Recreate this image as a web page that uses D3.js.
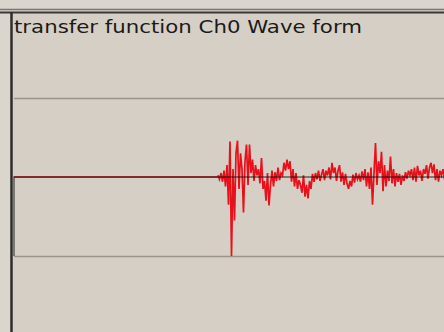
<html>
<script src="https://d3js.org/d3.v7.min.js"></script>
<head>
  <style>
    body { margin: 0; background: #dad6ce; }
    svg { display: block; }
  </style>
</head>
<body>
  <svg id="my_svg" width="444" height="332"></svg>
  <script>
    // chart title
    const title = "transfer function Ch0 Wave form"

    // grid levels (normalised amplitude)
    const gridLevels = [1, -1]

    // black trace: step at the start, then flat
    const blackTimes = [0, 0, 430]
    const blackValues = [-1, 0, 0]

    // red trace: quiet part, then the response samples
    const quietTimes = [0, 204]
    const quietValues = [0, 0]
    const waveStart = 204
    const waveStep = 1.5
    const redWave = [
      0.02, -0.03, 0.05, -0.06, 0.08, -0.12, 0.15, -0.35, 0.45, -1.0,
      0.1, -0.55, 0.3, 0.46, -0.15, 0.3, 0.1, -0.45, 0.2, 0.41,
      -0.1, 0.41, 0.05, 0.22, -0.05, 0.15, 0.02, 0.1, -0.08, 0.24,
      -0.15, -0.05, -0.3, 0.05, -0.36, -0.1, 0.08, -0.12, 0.06, -0.05,
      0.12, -0.04, 0.05, 0.02, 0.18, 0.08, 0.22, 0.1, 0.2, -0.06,
      0.1, -0.12, 0.05, -0.15, -0.04, -0.1, -0.2, 0.02, -0.25, -0.1,
      -0.27, -0.05, -0.15, 0.04, -0.06, 0.05, -0.03, 0.08, -0.05, 0.03,
      0.1, -0.04, 0.08, 0.02, 0.12, -0.03, 0.18, 0.05, 0.12, -0.05,
      0.08, 0.15, -0.06, 0.06, -0.1, 0.04, -0.08, -0.15, -0.05, -0.12,
      0.03, -0.07, 0.05, -0.03, 0.02, -0.06, 0.07, -0.04, 0.1, -0.12,
      0.06, -0.15, 0.12, -0.35, 0.05, 0.43, -0.1, 0.2, 0.05, 0.32,
      -0.18, 0.15, -0.12, 0.08, -0.05, 0.26, -0.08, 0.1, -0.12, 0.05,
      -0.06, 0.04, -0.1, 0.02, -0.05, 0.06, -0.02, 0.08, 0.02, 0.1,
      -0.04, 0.12, -0.06, 0.14, 0.02, 0.08, -0.05, 0.1, 0.04, 0.15,
      -0.02, 0.12, 0.18, 0.05, 0.16, -0.04, 0.1, -0.06, 0.08, 0.02,
      0.1, -0.03
    ]

    const svg = d3.select("#my_svg")
    const W = 444, H = 332
    const panelLeft = 13, panelTop = 13

    const xs = d3.scaleLinear().domain([0, 430]).range([14, 444])
    const ys = d3.scaleLinear().domain([-2, 2]).range([335, 19])

    // panel
    svg.append("rect").attr("x", panelLeft).attr("y", panelTop)
      .attr("width", W - panelLeft).attr("height", H - panelTop)
      .attr("fill", "#d6cfc5")

    // frame lines
    svg.append("line").attr("x1", 0).attr("x2", W).attr("y1", 9.5).attr("y2", 9.5)
      .attr("stroke", "#7a7670").attr("stroke-width", 1.5)
    svg.append("line").attr("x1", 0).attr("x2", W).attr("y1", 12.5).attr("y2", 12.5)
      .attr("stroke", "#3a3834").attr("stroke-width", 2)
    svg.append("line").attr("x1", 11.5).attr("x2", 11.5).attr("y1", 12).attr("y2", H)
      .attr("stroke", "#2e2c2a").attr("stroke-width", 2.5)

    // grid
    svg.append("g").selectAll("line").data(gridLevels).enter().append("line")
      .attr("x1", 14).attr("x2", W)
      .attr("y1", d => ys(d) + 0.5).attr("y2", d => ys(d) + 0.5)
      .attr("stroke", "#9a948c").attr("stroke-width", 1.5)

    // title
    svg.append("text").attr("x", 14).attr("y", 33)
      .attr("font-family", "DejaVu Sans").attr("font-size", 17)
      .attr("textLength", 348).attr("lengthAdjust", "spacingAndGlyphs")
      .attr("fill", "#1a1a1a").text(title)

    const line = d3.line().x(d => xs(d[0])).y(d => ys(d[1]))

    const redPts = quietTimes.map((t, i) => [t, quietValues[i]])
      .concat(redWave.map((v, i) => [waveStart + i * waveStep, v]))

    svg.append("path").datum(redPts)
      .attr("d", line).attr("fill", "none")
      .attr("stroke", "#e8101a").attr("stroke-width", 1.7)

    const blackPts = blackTimes.map((t, i) => [t, blackValues[i]])
    svg.append("path").datum(blackPts)
      .attr("d", line).attr("fill", "none")
      .attr("stroke", "#111").attr("stroke-width", 1.5).attr("stroke-opacity", 0.6)
  </script>
</body>
</html>
